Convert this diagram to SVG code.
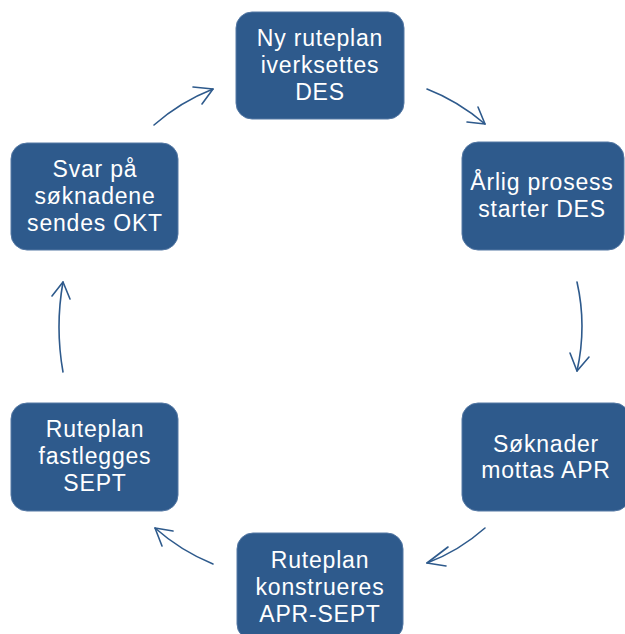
<svg xmlns="http://www.w3.org/2000/svg" width="625" height="634" viewBox="0 0 625 634">
<style>
.box{fill:#2E5A8C;stroke:#5478A4;stroke-width:1}
.t{font-family:"Liberation Sans","DejaVu Sans",sans-serif;font-size:23px;letter-spacing:0.8px;fill:#FFFFFF;text-anchor:middle}
.c{fill:none;stroke:#2E5A8C;stroke-width:1.6;stroke-linecap:round;stroke-linejoin:round}
</style>
<rect width="625" height="634" fill="#FFFFFF"/>
<g id="connectors">
<path class="c" d="M427,89 Q458,101 485,124"/>
<path class="c" d="M478,107 L485,124 L467,122"/>
<path class="c" d="M577,282 Q587,326 577,371"/>
<path class="c" d="M570,353 L577,371 L589,357"/>
<path class="c" d="M485,528 Q459,551 427,563"/>
<path class="c" d="M448,547 L427,563 L446,566"/>
<path class="c" d="M213,564 Q181,551 155,528"/>
<path class="c" d="M173,531 L155,528 L162,546"/>
<path class="c" d="M63,372 Q55,327 63,282"/>
<path class="c" d="M52,296 L63,282 L70,299"/>
<path class="c" d="M154,125 Q180,102 213,89"/>
<path class="c" d="M193,87 L213,89 L202,104"/>
</g>
<g id="node1">
<rect class="box" x="236" y="12" width="168" height="107" rx="16"/>
<text class="t" x="320" y="46">Ny ruteplan</text>
<text class="t" x="320" y="73">iverksettes</text>
<text class="t" x="320" y="100">DES</text>
</g>
<g id="node2">
<rect class="box" x="462" y="142" width="162" height="108" rx="16"/>
<text class="t" x="542" y="190">Årlig prosess</text>
<text class="t" x="542" y="217">starter DES</text>
</g>
<g id="node3">
<rect class="box" x="462" y="403" width="168" height="108" rx="16"/>
<text class="t" x="546" y="452">Søknader</text>
<text class="t" x="546" y="478">mottas APR</text>
</g>
<g id="node4">
<rect class="box" x="237" y="533" width="166" height="107" rx="16"/>
<text class="t" x="320" y="568">Ruteplan</text>
<text class="t" x="320" y="595">konstrueres</text>
<text class="t" x="320" y="622">APR-SEPT</text>
</g>
<g id="node5">
<rect class="box" x="11" y="403" width="167" height="108" rx="16"/>
<text class="t" x="95" y="437">Ruteplan</text>
<text class="t" x="95" y="464">fastlegges</text>
<text class="t" x="95" y="491">SEPT</text>
</g>
<g id="node6">
<rect class="box" x="11" y="143" width="167" height="107" rx="16"/>
<text class="t" x="95" y="177">Svar på</text>
<text class="t" x="95" y="204">søknadene</text>
<text class="t" x="95" y="231">sendes OKT</text>
</g>
</svg>
